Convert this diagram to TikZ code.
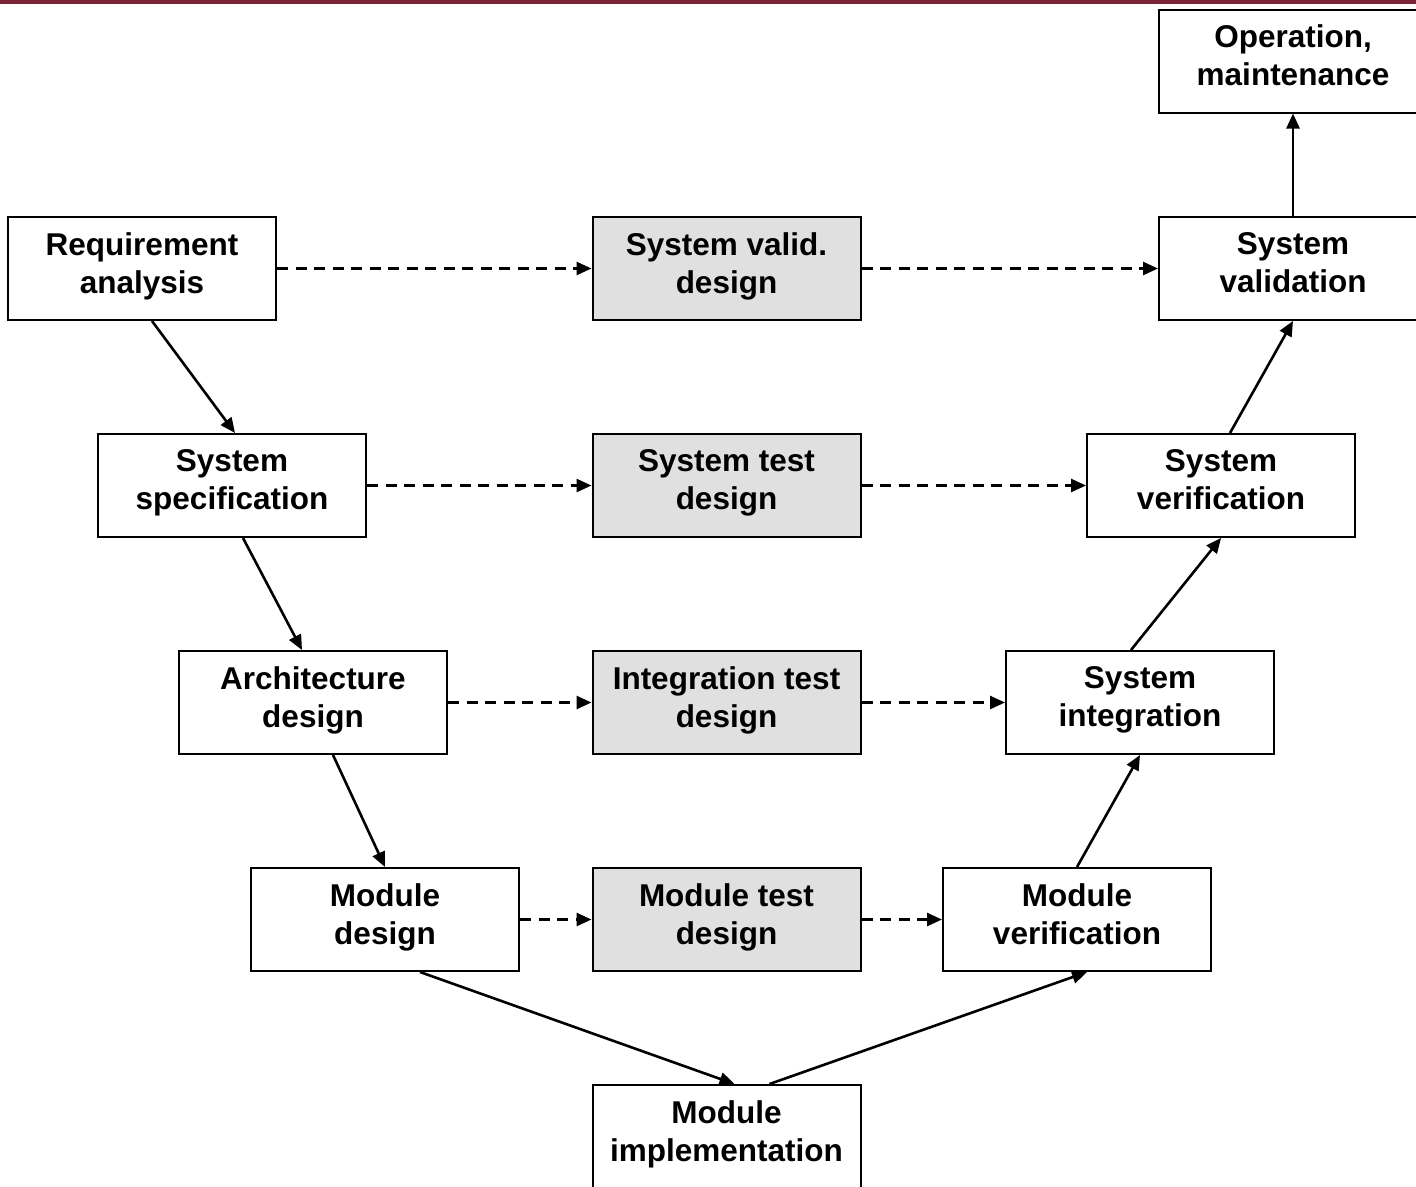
\documentclass[tikz,border=0pt]{standalone}
\usepackage{fontspec}
\setmainfont{Liberation Sans}
\usetikzlibrary{arrows.meta}
\definecolor{barred}{RGB}{125,35,55}

\begin{document}
\begin{tikzpicture}[x=1pt,y=-1pt,
  phase/.style={draw, line width=2pt, minimum width=268pt, minimum height=103pt,
    inner sep=0pt, align=center, font=\fontsize{31.5}{38}\selectfont\bfseries,
    execute at begin node=\strut, execute at end node=\strut},
  testbox/.style={phase, fill=black!12},
  flow/.style={line width=2.6pt, -{Triangle[length=15pt,width=13pt]}},
  link/.style={flow, dash pattern=on 11pt off 7.5pt}]
\useasboundingbox (0,0) rectangle (1416,1186);
\clip (0,0) rectangle (1416,1186);
\fill [barred] (0,0) rectangle (1416,3.5);

% left branch
\node [phase] (req) at (142,268.5) {Requirement\\analysis};
\node [phase] (spec) at (232,485.5) {System\\specification};
\node [phase] (arch) at (313,702.5) {Architecture\\design};
\node [phase] (mod) at (385,919.5) {Module\\design};
\node [phase] (impl) at (726.5,1136.5) {Module\\implementation};

% test designs
\node [testbox] (valdes) at (726.5,268.5) {System valid.\\design};
\node [testbox] (sysdes) at (726.5,485.5) {System test\\design};
\node [testbox] (intdes) at (726.5,702.5) {Integration test\\design};
\node [testbox] (moddes) at (726.5,919.5) {Module test\\design};

% right branch
\node [phase] (modver) at (1077,919.5) {Module\\verification};
\node [phase] (integ) at (1140,702.5) {System\\integration};
\node [phase] (ver) at (1221,485.5) {System\\verification};
\node [phase] (val) at (1293,268.5) {System\\validation};
\node [phase] (op) at (1293,61) {Operation,\\maintenance};

\draw [flow] ([xshift=10pt]req.south) -- ([xshift=3pt]spec.north);
\draw [flow] ([xshift=11pt]spec.south) -- ([xshift=-11pt]arch.north);
\draw [flow] ([xshift=20pt]arch.south) -- (mod.north);
\draw [flow] ([xshift=35pt]mod.south) -- ([xshift=8pt]impl.north);
\draw [flow] ([xshift=43pt]impl.north) -- ([xshift=10pt]modver.south);
\draw [flow] (modver.north) -- (integ.south);
\draw [flow] ([xshift=-9pt]integ.north) -- (ver.south);
\draw [flow] ([xshift=9pt]ver.north) -- (val.south);
\draw [flow] (val) -- (op);

\draw [link] (req) -- (valdes);
\draw [link] (valdes) -- (val);
\draw [link] (spec) -- (sysdes);
\draw [link] (sysdes) -- (ver);
\draw [link] (arch) -- (intdes);
\draw [link] (intdes) -- (integ);
\draw [link] (mod) -- (moddes);
\draw [link] (moddes) -- (modver);
\end{tikzpicture}
\end{document}
